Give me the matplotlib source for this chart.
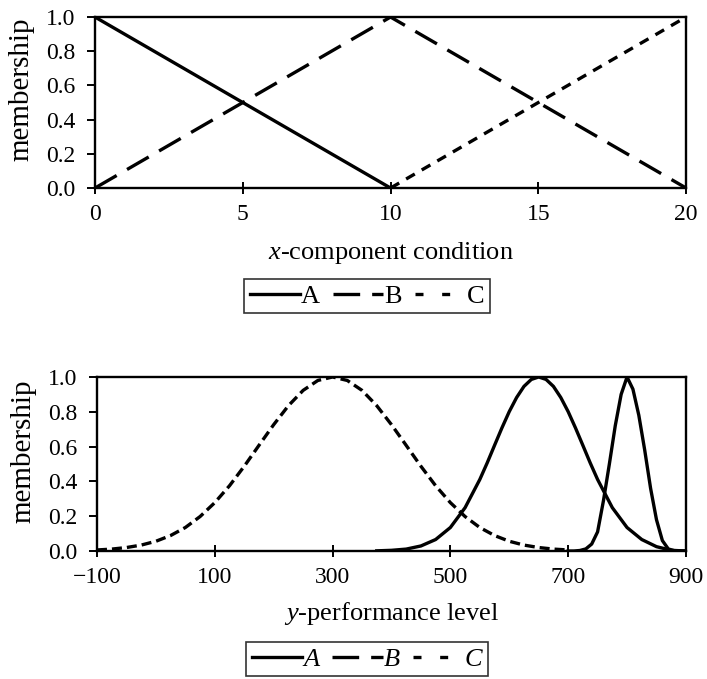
import matplotlib
matplotlib.use("Agg")
import matplotlib.pyplot as plt
from matplotlib.lines import Line2D

plt.rcParams['font.family'] = ['Liberation Serif', 'DejaVu Serif']
plt.rcParams['mathtext.fontset'] = 'custom'
plt.rcParams['mathtext.it'] = 'Liberation Serif:italic'
plt.rcParams['mathtext.rm'] = 'Liberation Serif'
plt.rcParams['font.size'] = 17

# top chart: x-component condition
x_a = [0, 10]
a_top = [1.0, 0.0]
x_b = [0, 10, 20]
b_top = [0.0, 1.0, 0.0]
x_c = [10, 20]
c_top = [0.0, 1.0]
top_ticks = [0, 5, 10, 15, 20]

# bottom chart: y-performance level
ya_x = [375, 400, 425, 450, 475, 500, 525, 550, 562.5, 575, 587.5, 600, 612.5, 625, 637.5,
        650, 662.5, 675, 687.5, 700, 712.5, 725, 737.5, 750, 775, 800, 825, 850, 875, 900]
ya = [0.001, 0.004, 0.011, 0.029, 0.066, 0.135, 0.249, 0.411, 0.506, 0.607, 0.707, 0.801,
      0.882, 0.946, 0.986, 1.0, 0.986, 0.946, 0.882, 0.801, 0.707, 0.607, 0.506, 0.411,
      0.249, 0.135, 0.066, 0.025, 0.004, 0.0]
yb_x = [700, 710, 720, 730, 740, 750, 760, 770, 780, 790, 800,
        810, 820, 830, 840, 850, 860, 870, 880, 890, 900]
yb = [0.0, 0.0, 0.003, 0.012, 0.04, 0.11, 0.29, 0.50, 0.72, 0.90, 1.0,
      0.93, 0.78, 0.58, 0.36, 0.18, 0.06, 0.012, 0.002, 0.0, 0.0]
yc_x = [-100, -75, -50, -25, 0, 25, 50, 75, 100, 125, 150, 175, 200, 225, 250, 275, 300,
        325, 350, 375, 400, 425, 450, 475, 500, 525, 550, 575, 600, 625, 650, 675, 700]
yc = [0.006, 0.011, 0.020, 0.034, 0.056, 0.089, 0.135, 0.198, 0.278, 0.375, 0.487, 0.607,
      0.726, 0.835, 0.923, 0.980, 1.0, 0.980, 0.923, 0.835, 0.726, 0.607, 0.487, 0.375,
      0.278, 0.198, 0.135, 0.089, 0.056, 0.034, 0.020, 0.011, 0.006]
bottom_ticks = [-100, 100, 300, 500, 700, 900]
y_ticks = [0.0, 0.2, 0.4, 0.6, 0.8, 1.0]
names = ['A', 'B', 'C']

fig = plt.figure(figsize=(7.07, 6.79), dpi=100)
ax1 = fig.add_axes([0.1344, 0.7231, 0.836, 0.2518])
ax2 = fig.add_axes([0.1372, 0.1885, 0.833, 0.2563])

lw = 2.4
ax1.plot(x_a, a_top, color='black', lw=lw)
ax1.plot(x_b, b_top, color='black', lw=lw, dashes=(7.5, 3.6))
ax1.plot(x_c, c_top, color='black', lw=lw, dashes=(3.0, 2.4))
ax1.set_xlim(0, 20)
ax1.set_xticks(top_ticks)
ax1.set_xlabel(r'$x$-component condition', fontsize=19)
ax1.xaxis.set_label_coords(0.5, (188 - 253) / 171)

ax2.plot(ya_x, ya, color='black', lw=lw)
ax2.plot(yb_x, yb, color='black', lw=lw)
ax2.plot(yc_x, yc, color='black', lw=lw, dashes=(3.0, 1.5))
ax2.set_xlim(-100, 900)
ax2.set_xticks(bottom_ticks)
ax2.set_xlabel(r'$y$-performance level', fontsize=19)
ax2.xaxis.set_label_coords(0.5, (551 - 613) / 174)

for ax in (ax1, ax2):
    ax.set_ylim(0, 1)
    ax.set_yticks(y_ticks)
    ax.set_yticklabels(['%.1f' % v for v in y_ticks])
    ax.set_ylabel('membership', fontsize=21)
    ax.yaxis.set_label_coords((22 - 96) / 591, 0.575)
    ax.yaxis.label.set_va('center')
    ax.xaxis.label.set_va('center')
    for s in ax.spines.values():
        s.set_linewidth(1.7)
    ax.tick_params(axis='x', direction='inout', length=9, width=1.4, pad=7)
    ax.tick_params(axis='y', direction='out', length=6, width=1.4, pad=8)


def legend_handles():
    return [Line2D([], [], color='black', lw=lw),
            Line2D([], [], color='black', lw=lw, dashes=(8, 3.6)),
            Line2D([], [], color='black', lw=lw, dashes=(2.4, 5.6))]


leg_kw = dict(loc='center', ncol=3, frameon=True, fancybox=False, edgecolor='black',
              handlelength=1.9, handletextpad=0.05, columnspacing=0.5,
              borderpad=0.2, borderaxespad=0)
leg1 = fig.legend(legend_handles(), names, bbox_to_anchor=(367 / 707, 1 - 296 / 679),
                  prop={'family': 'Liberation Serif', 'size': 19}, **leg_kw)
leg1.get_frame().set_linewidth(1.2)

leg2 = fig.legend(legend_handles(), names, bbox_to_anchor=(367 / 707, 1 - 659 / 679),
                  prop={'family': 'Liberation Serif', 'style': 'italic', 'size': 19}, **leg_kw)
leg2.get_frame().set_linewidth(1.2)

fig.savefig('out.png', dpi=100)
